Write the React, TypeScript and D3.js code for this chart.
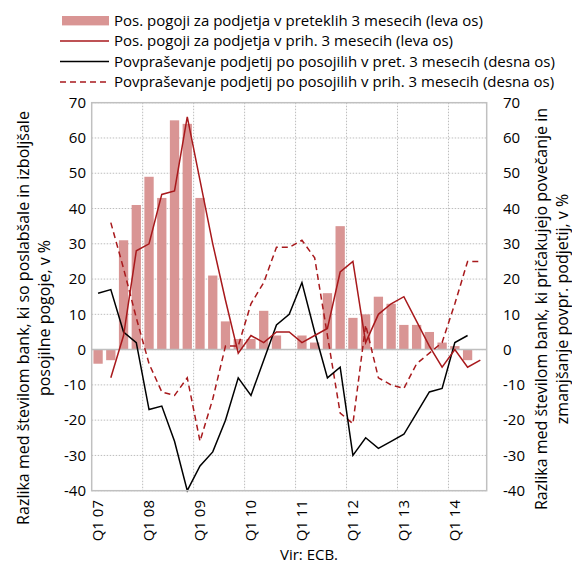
import React from "react";
import * as d3 from "d3";

const quarters = [
  "Q1 07","Q2 07","Q3 07","Q4 07",
  "Q1 08","Q2 08","Q3 08","Q4 08",
  "Q1 09","Q2 09","Q3 09","Q4 09",
  "Q1 10","Q2 10","Q3 10","Q4 10",
  "Q1 11","Q2 11","Q3 11","Q4 11",
  "Q1 12","Q2 12","Q3 12","Q4 12",
  "Q1 13","Q2 13","Q3 13","Q4 13",
  "Q1 14","Q2 14","Q3 14",
];

// Pos. pogoji za podjetja v preteklih 3 mesecih (leva os) - bars
const condPast: (number | null)[] = [
  -4, -3, 31, 41, 49, 43, 65, 64, 43, 21, 8, 3, 3, 11, 4, 0,
  4, 2, 16, 35, 9, 10, 15, 13, 7, 7, 5, 2, 1, -3, 0,
];
// Pos. pogoji za podjetja v prih. 3 mesecih (leva os)
const condNext: (number | null)[] = [
  null, -8, 4, 28, 30, 44, 45, 66, 48, 30, 14, -1, 4, 2, 5, 5,
  2, 4, 6, 22, 25, 2, 10, 13, 15, 8, 1, -5, 0, -5, -3,
];
// Povpraševanje podjetij po posojilih v pret. 3 mesecih (desna os)
const demandPast: (number | null)[] = [
  16, 17, 5, 2, -17, -16, -26, -40, -33, -29, -20, -8, -13, -3, 7, 10,
  19, 5, -8, -5, -30, -25, -28, -26, -24, -18, -12, -11, 2, 4, null,
];
// Povpraševanje podjetij po posojilih v prih. 3 mesecih (desna os)
const demandNext: (number | null)[] = [
  null, 36, 23, 9, -4, -12, -13, -8, -26, -14, 1, 1, 13, 19, 29, 29,
  31, 26, 4, -18, -21, 7, -8, -10, -11, -4, -1, 2, 13, 25, 25,
];

const yTicks = [-40, -30, -20, -10, 0, 10, 20, 30, 40, 50, 60, 70];

const legendLabels = [
  "Pos. pogoji za podjetja v preteklih 3 mesecih (leva os)",
  "Pos. pogoji za podjetja v prih. 3 mesecih (leva os)",
  "Povpraševanje podjetij po posojilih v pret. 3 mesecih (desna os)",
  "Povpraševanje podjetij po posojilih v prih. 3 mesecih (desna os)",
];

const leftTitle = [
  "Razlika med številom bank, ki so poslabšale in izboljšale",
  "posojilne pogoje, v %",
];
const rightTitle = [
  "Razlika med številom bank, ki pričakujejo povečanje in",
  "zmanjšanje povpr. podjetij, v %",
];
const source = "Vir: ECB.";

const W = 572;
const H = 563;
const L = 91.7;
const R = 486.7;
const T = 102.7;
const B = 490.7;

const BAR = "#d99594";
const RED = "#a8191c";
const GRID = "#bdbdbd";
const FONT = "'Open Sans', 'Noto Sans', sans-serif";

export default function App() {
  const xb = d3.scaleBand<string>().domain(quarters).range([L, R]);
  const xBar = d3
    .scaleBand<string>()
    .domain(quarters)
    .range([L, R])
    .paddingInner(0.27)
    .paddingOuter(0.135);
  const yL = d3.scaleLinear().domain([-40, 70]).range([B, T]);
  const yR = d3.scaleLinear().domain([-40, 70]).range([B, T]);
  const cx = (q: string) => (xb(q) as number) + xb.bandwidth() / 2;

  const mkLine = (vals: (number | null)[], y: d3.ScaleLinear<number, number>) =>
    d3
      .line<number | null>()
      .defined((d) => d != null)
      .x((_, i) => cx(quarters[i]))
      .y((d) => y(d as number))(vals) as string;

  const fsTick = 15;
  const fsLeg = 15;
  const fsTitle = 16;

  return (
    <svg
      width={W}
      height={H}
      style={{ position: "absolute", left: 0, top: 0, background: "#fff" }}
      fontFamily={FONT}
    >
      <rect x={0} y={0} width={W} height={H} fill="#fff" />
      {/* grid */}
      {yTicks.map((t) => (
        <line
          key={"gy" + t}
          x1={L}
          x2={R}
          y1={yL(t)}
          y2={yL(t)}
          stroke={GRID}
          strokeWidth={1}
          strokeDasharray="1.5,1.5"
        />
      ))}
      {quarters.map((q, i) =>
        i > 0 && i % 4 === 0 ? (
          <line
            key={"gx" + q}
            x1={xb(q)}
            x2={xb(q)}
            y1={T}
            y2={B}
            stroke={GRID}
            strokeWidth={1}
            strokeDasharray="1.5,1.5"
          />
        ) : null
      )}
      {/* bars */}
      {condPast.map((v, i) =>
        v == null || v === 0 ? null : (
          <rect
            key={"b" + i}
            x={xBar(quarters[i])}
            width={xBar.bandwidth()}
            y={yL(Math.max(0, v))}
            height={Math.abs(yL(v) - yL(0))}
            fill={BAR}
          />
        )
      )}
      {/* zero line */}
      <line x1={L} x2={R} y1={yL(0)} y2={yL(0)} stroke="#bfbfbf" strokeWidth={1.5} />
      {/* lines */}
      <path d={mkLine(demandNext, yR)} fill="none" stroke={RED} strokeWidth={1.5} strokeDasharray="6,4" />
      <path d={mkLine(demandPast, yR)} fill="none" stroke="#000" strokeWidth={1.5} />
      <path d={mkLine(condNext, yL)} fill="none" stroke={RED} strokeWidth={1.5} />
      {/* border */}
      <rect x={L} y={T} width={R - L} height={B - T} fill="none" stroke="#c0c0c0" strokeWidth={1.5} />
      {/* left ticks */}
      {yTicks.map((t) => (
        <text key={"tl" + t} x={86} y={yL(t)} dy="0.35em" textAnchor="end" fontSize={fsTick} fill="#000">
          {t}
        </text>
      ))}
      {yTicks.map((t) => (
        <text key={"tr" + t} x={503} y={yR(t)} dy="0.35em" textAnchor="start" fontSize={fsTick} fill="#000">
          {t}
        </text>
      ))}
      {/* x labels */}
      {quarters.map((q, i) =>
        i % 4 === 0 ? (
          <text
            key={"xl" + q}
            transform={`translate(${cx(q)},${500}) rotate(-90)`}
            textAnchor="end"
            dy="0.35em"
            fontSize={fsTick}
            fill="#000"
          >
            {q}
          </text>
        ) : null
      )}
      {/* axis titles */}
      {leftTitle.map((s, i) => (
        <text
          key={"lt" + i}
          transform={`translate(${23 + i * 21},${318}) rotate(-90)`}
          textAnchor="middle"
          dy="0.35em"
          fontSize={fsTitle}
          fill="#000"
        >
          {s}
        </text>
      ))}
      {rightTitle.map((s, i) => (
        <text
          key={"rt" + i}
          transform={`translate(${541 + i * 21},${309}) rotate(-90)`}
          textAnchor="middle"
          dy="0.35em"
          fontSize={fsTitle}
          fill="#000"
        >
          {s}
        </text>
      ))}
      <text x={309} y={555} dy="0.35em" textAnchor="middle" fontSize={fsTick} fill="#000">
        {source}
      </text>
      {/* legend */}
      {legendLabels.map((s, i) => {
        const y = 20.7 + i * 20.4;
        return (
          <g key={"lg" + i}>
            {i === 0 && <rect x={62} y={y - 4.7} width={47} height={9.4} fill={BAR} />}
            {i === 1 && <line x1={60} x2={109} y1={y} y2={y} stroke={RED} strokeWidth={1.5} />}
            {i === 2 && <line x1={60} x2={109} y1={y} y2={y} stroke="#000" strokeWidth={1.5} />}
            {i === 3 && (
              <line x1={60} x2={109} y1={y} y2={y} stroke={RED} strokeWidth={1.5} strokeDasharray="6,4" />
            )}
            <text x={114} y={y} dy="0.35em" fontSize={fsLeg} fill="#000">
              {s}
            </text>
          </g>
        );
      })}
    </svg>
  );
}
